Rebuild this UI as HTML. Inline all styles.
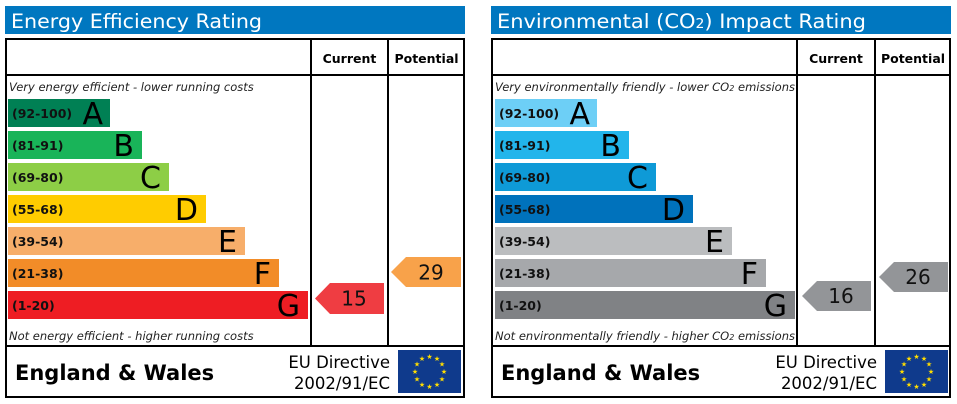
<!DOCTYPE html>
<html><head><meta charset="utf-8"><style>
html,body{margin:0;padding:0;background:#fff}
svg{display:block}
text{font-family:"DejaVu Sans","Liberation Sans",sans-serif}
.t{fill:#fff;font-size:19.5px}
.h{font-size:12.5px;font-weight:bold}
.i{font-size:11.5px;font-style:italic;fill:#222}
.r{font-size:12.5px;font-weight:bold;fill:#111}
.l{font-size:30px;fill:#000}
.n{font-size:20px;fill:#111}
.ew{font-size:21px;font-weight:bold}
.eu{font-size:16.5px}
</style></head><body>
<svg width="957" height="404" viewBox="0 0 957 404" xmlns="http://www.w3.org/2000/svg">
<defs>
<g id="flag">
<rect x="0" y="0" width="63" height="43" fill="#0f3a8c"/>
<g fill="#ffdd00" font-size="7" text-anchor="middle" font-family="DejaVu Sans">
<text x="31.5" y="9">★</text><text x="39" y="11">★</text><text x="44" y="16.5">★</text><text x="46" y="24">★</text><text x="44" y="31.5">★</text><text x="39" y="37">★</text><text x="31.5" y="39">★</text><text x="24" y="37">★</text><text x="19" y="31.5">★</text><text x="17" y="24">★</text><text x="19" y="16.5">★</text><text x="24" y="11">★</text>
</g></g>
</defs>

<!-- LEFT -->
<rect x="5" y="6" width="460" height="28" fill="#0077c0"/>
<text class="t" x="11" y="28" textLength="251" lengthAdjust="spacingAndGlyphs">Energy Efficiency Rating</text>
<rect x="6" y="39" width="458" height="358" fill="none" stroke="#000" stroke-width="2"/>
<line x1="5" y1="75" x2="465" y2="75" stroke="#000" stroke-width="2"/>
<line x1="5" y1="346" x2="465" y2="346" stroke="#000" stroke-width="2"/>
<line x1="311" y1="38" x2="311" y2="346" stroke="#000" stroke-width="2"/>
<line x1="388" y1="38" x2="388" y2="346" stroke="#000" stroke-width="2"/>
<text class="h" x="349.5" y="63" text-anchor="middle">Current</text>
<text class="h" x="426.5" y="63" text-anchor="middle">Potential</text>
<text class="i" x="9" y="91">Very energy efficient - lower running costs</text>
<text class="i" x="9" y="340">Not energy efficient - higher running costs</text>
<rect x="8" y="99" width="102" height="28" fill="#008054"/><text class="r" x="12" y="118">(92-100)</text><text class="l" x="103" y="124" text-anchor="end">A</text>
<rect x="8" y="131" width="134" height="28" fill="#19b459"/><text class="r" x="12" y="150">(81-91)</text><text class="l" x="134" y="156" text-anchor="end">B</text>
<rect x="8" y="163" width="161" height="28" fill="#8dce46"/><text class="r" x="12" y="182">(69-80)</text><text class="l" x="161" y="188" text-anchor="end">C</text>
<rect x="8" y="195" width="198" height="28" fill="#ffcc00"/><text class="r" x="12" y="214">(55-68)</text><text class="l" x="198" y="220" text-anchor="end">D</text>
<rect x="8" y="227" width="237" height="28" fill="#f7ae6a"/><text class="r" x="12" y="246">(39-54)</text><text class="l" x="237" y="252" text-anchor="end">E</text>
<rect x="8" y="259" width="271" height="28" fill="#f28c28"/><text class="r" x="12" y="278">(21-38)</text><text class="l" x="271" y="284" text-anchor="end">F</text>
<rect x="8" y="291" width="300" height="28" fill="#ee1d23"/><text class="r" x="12" y="310">(1-20)</text><text class="l" x="300" y="316" text-anchor="end">G</text>
<polygon points="315,298.5 330,283 384,283 384,314 330,314" fill="#ef3d42"/>
<text class="n" x="354" y="305.5" text-anchor="middle">15</text>
<polygon points="391,272 406,257 461,257 461,287 406,287" fill="#f8a24a"/>
<text class="n" x="431" y="279.5" text-anchor="middle">29</text>
<text class="ew" x="15" y="380">England &amp; Wales</text>
<text class="eu" x="390" y="368" text-anchor="end">EU Directive</text>
<text class="eu" x="390" y="389" text-anchor="end">2002/91/EC</text>
<use href="#flag" x="398" y="350"/>

<!-- RIGHT -->
<rect x="491" y="6" width="460" height="28" fill="#0077c0"/>
<text class="t" x="497" y="28" textLength="369" lengthAdjust="spacingAndGlyphs">Environmental (CO<tspan font-size="13">2</tspan>) Impact Rating</text>
<rect x="492" y="39" width="458" height="358" fill="none" stroke="#000" stroke-width="2"/>
<line x1="491" y1="75" x2="951" y2="75" stroke="#000" stroke-width="2"/>
<line x1="491" y1="346" x2="951" y2="346" stroke="#000" stroke-width="2"/>
<line x1="797" y1="38" x2="797" y2="346" stroke="#000" stroke-width="2"/>
<line x1="875" y1="38" x2="875" y2="346" stroke="#000" stroke-width="2"/>
<text class="h" x="836" y="63" text-anchor="middle">Current</text>
<text class="h" x="913" y="63" text-anchor="middle">Potential</text>
<text class="i" x="495" y="91" textLength="300" lengthAdjust="spacingAndGlyphs">Very environmentally friendly - lower CO<tspan font-size="8">2</tspan> emissions</text>
<text class="i" x="495" y="340" textLength="300" lengthAdjust="spacingAndGlyphs">Not environmentally friendly - higher CO<tspan font-size="8">2</tspan> emissions</text>
<rect x="495" y="99" width="102" height="28" fill="#6dcff6"/><text class="r" x="499" y="118">(92-100)</text><text class="l" x="590" y="124" text-anchor="end">A</text>
<rect x="495" y="131" width="134" height="28" fill="#22b5eb"/><text class="r" x="499" y="150">(81-91)</text><text class="l" x="621" y="156" text-anchor="end">B</text>
<rect x="495" y="163" width="161" height="28" fill="#0e9ad7"/><text class="r" x="499" y="182">(69-80)</text><text class="l" x="648" y="188" text-anchor="end">C</text>
<rect x="495" y="195" width="198" height="28" fill="#0072bc"/><text class="r" x="499" y="214">(55-68)</text><text class="l" x="685" y="220" text-anchor="end">D</text>
<rect x="495" y="227" width="237" height="28" fill="#bbbdbf"/><text class="r" x="499" y="246">(39-54)</text><text class="l" x="724" y="252" text-anchor="end">E</text>
<rect x="495" y="259" width="271" height="28" fill="#a6a8ab"/><text class="r" x="499" y="278">(21-38)</text><text class="l" x="758" y="284" text-anchor="end">F</text>
<rect x="495" y="291" width="300" height="28" fill="#808285"/><text class="r" x="499" y="310">(1-20)</text><text class="l" x="787" y="316" text-anchor="end">G</text>
<polygon points="802,296 817,281 871,281 871,311 817,311" fill="#939598"/>
<text class="n" x="841" y="303" text-anchor="middle">16</text>
<polygon points="879,277 894,262 948,262 948,292 894,292" fill="#939598"/>
<text class="n" x="918" y="284" text-anchor="middle">26</text>
<text class="ew" x="501" y="380">England &amp; Wales</text>
<text class="eu" x="877" y="368" text-anchor="end">EU Directive</text>
<text class="eu" x="877" y="389" text-anchor="end">2002/91/EC</text>
<use href="#flag" x="885" y="350"/>
</svg>
</body></html>
